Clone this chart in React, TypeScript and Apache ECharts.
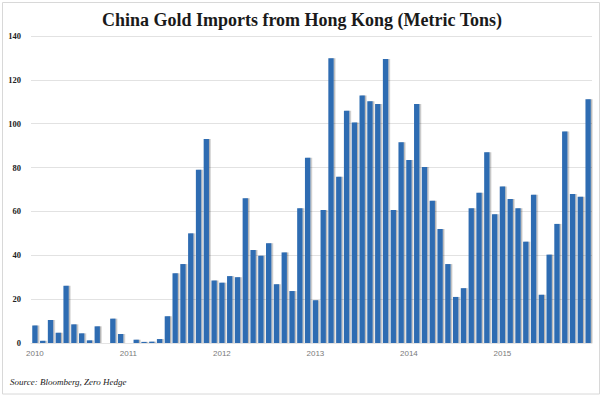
import React, { useEffect, useRef } from "react";
import * as echarts from "echarts";

const years = ["2010", "2011", "2012", "2013", "2014", "2015"];
const months = ["Jan", "Feb", "Mar", "Apr", "May", "Jun", "Jul", "Aug", "Sep", "Oct", "Nov", "Dec"];
const categories: string[] = years.flatMap((y) => months.map((m) => `${m} ${y}`));

const imports2010 = [8, 1, 10.5, 4.7, 26.1, 8.5, 4.4, 1.2, 7.6, 0, 11.1, 4.1];
const imports2011 = [0, 1.5, 0.5, 0.6, 1.8, 12.2, 31.8, 36, 50, 79, 93, 28.5];
const imports2012 = [27.5, 30.5, 30, 66, 42.4, 39.8, 45.5, 26.8, 41.3, 23.7, 61.4, 84.5];
const imports2013 = [19.5, 60.6, 129.8, 75.8, 105.9, 100.6, 112.9, 110.2, 109, 129.5, 60.6, 91.5];
const imports2014 = [83.4, 109, 80.3, 64.9, 52, 36, 21, 25, 61.4, 68.5, 87, 58.7];
const imports2015 = [71.4, 65.7, 61.4, 46.2, 67.6, 22, 40.3, 54.3, 96.4, 67.9, 66.7, 111.1];

const values = [
  ...imports2010,
  ...imports2011,
  ...imports2012,
  ...imports2013,
  ...imports2014,
  ...imports2015,
];

const yTicks = [0, 20, 40, 60, 80, 100, 120, 140];

export default function App() {
  const ref = useRef<HTMLDivElement>(null);
  useEffect(() => {
    if (!ref.current) return;
    const chart = echarts.init(ref.current, undefined, { renderer: "svg" });
    chart.setOption({
      animation: false,
      backgroundColor: "#ffffff",
      title: {
        text: "China Gold Imports from Hong Kong (Metric Tons)",
        left: "center",
        top: 6,
        textStyle: {
          fontFamily: "Liberation Serif",
          fontWeight: "bold",
          fontSize: 18,
          color: "#1a1a1a",
        },
      },
      grid: { left: 31, right: 12, top: 36, bottom: 55 },
      xAxis: {
        type: "category",
        data: categories,
        axisTick: { show: false },
        axisLine: { show: true, lineStyle: { color: "#e4e4e4" } },
        axisLabel: {
          interval: (i: number) => i % 12 === 0,
          formatter: (v: string) => v.split(" ")[1],
          color: "#7a7a7a",
          fontFamily: "Liberation Sans",
          fontSize: 8,
          margin: 6,
        },
      },
      yAxis: {
        type: "value",
        min: yTicks[0],
        max: yTicks[yTicks.length - 1],
        interval: 20,
        axisLine: { show: false },
        axisTick: { show: false },
        splitLine: { lineStyle: { color: "#e2e2e2", width: 1 } },
        axisLabel: {
          color: "#222",
          fontFamily: "Liberation Serif",
          fontWeight: "bold",
          fontSize: 8.5,
          margin: 10,
        },
      },
      series: [
        {
          type: "bar",
          data: values,
          barCategoryGap: "32%",
          itemStyle: {
            color: "#2f6cb2",
            shadowColor: "rgba(0,0,0,0.3)",
            shadowOffsetX: 1.5,
            shadowOffsetY: 0,
            shadowBlur: 1.5,
          },
        },
      ],
      graphic: [
        {
          type: "rect",
          shape: { x: 2.5, y: 2.5, width: 597, height: 391.5 },
          style: { fill: "none", stroke: "#d8d8d8", lineWidth: 1 },
          silent: true,
        },
        {
          type: "text",
          left: 10,
          top: 377,
          style: {
            text: "Source: Bloomberg, Zero Hedge",
            fontFamily: "Liberation Serif",
            fontStyle: "italic",
            fontSize: 9,
            fill: "#222",
          },
        },
      ],
    });
    return () => chart.dispose();
  }, []);
  return (
    <div
      ref={ref}
      style={{ position: "fixed", left: 0, top: 0, width: 604, height: 398 }}
    />
  );
}
